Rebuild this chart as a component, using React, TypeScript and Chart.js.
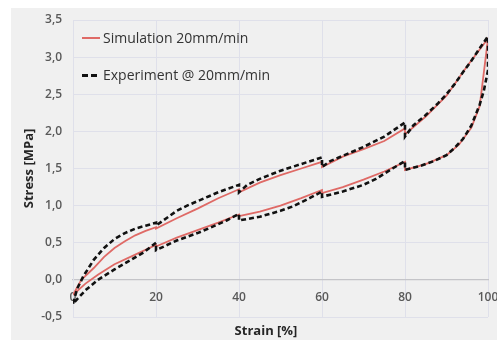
import React, { useEffect, useRef } from 'react';
import { Chart, registerables } from 'chart.js';

Chart.register(...registerables);

// ---- data ----
const seriesNames = ['Simulation 20mm/min', 'Experiment @ 20mm/min'];
const xTickValues = [0, 20, 40, 60, 80, 100];
const yTickValues = [-0.5, 0, 0.5, 1, 1.5, 2, 2.5, 3, 3.5];
const xTitle = 'Strain [%]';
const yTitle = 'Stress [MPa]';

// Simulation (loading 0 -> 100, then unloading 100 -> 0)
const simStrain = [
  0, 2, 5, 7.5, 10, 12.5, 15, 17.5, 20, 20, 25, 30, 35, 40, 40, 45, 50, 55, 60, 60, 65, 70, 75, 80, 80, 85, 90, 95, 100,
  100, 98, 96, 93, 90, 85, 80, 80, 75, 70, 65, 60, 60, 55, 50, 45, 40, 40, 35, 30, 25, 20, 20, 15, 10, 6, 3, 0,
];
const simStress = [
  -0.2, 0.0, 0.16, 0.31, 0.43, 0.52, 0.6, 0.66, 0.71, 0.69, 0.83, 0.96, 1.1, 1.22, 1.18, 1.31, 1.41, 1.5, 1.59, 1.52, 1.66, 1.76, 1.87, 2.04, 1.96, 2.2, 2.48, 2.88, 3.25,
  3.25, 2.34, 2.05, 1.82, 1.68, 1.56, 1.48, 1.59, 1.46, 1.35, 1.25, 1.17, 1.21, 1.1, 1.0, 0.92, 0.86, 0.88, 0.77, 0.67, 0.57, 0.45, 0.47, 0.34, 0.21, 0.07, -0.05, -0.2,
];

// Experiment (loading 0 -> 100, then unloading 100 -> 0)
const expStrain = [
  0, 1, 2.5, 5, 7.5, 10, 12.5, 15, 17.5, 20, 20, 22.5, 25, 27.5, 30, 32.5, 35, 37.5, 40, 40, 42, 45, 50, 55, 60, 60, 62, 65, 70, 75, 80, 80, 82, 85, 88, 90, 92, 94, 96, 98, 100,
  100, 99, 98, 96, 94, 92, 90, 87, 84, 80, 80, 77, 73, 70, 65, 60, 60, 57, 53, 50, 45, 40, 40, 37, 33, 30, 25, 20, 20, 17, 14, 10, 6, 3, 0,
];
const expStress = [
  -0.32, -0.12, 0.05, 0.27, 0.43, 0.55, 0.63, 0.69, 0.73, 0.77, 0.73, 0.83, 0.93, 1.0, 1.06, 1.12, 1.18, 1.23, 1.28, 1.18, 1.28, 1.36, 1.47, 1.56, 1.65, 1.52, 1.6, 1.67, 1.79, 1.93, 2.12, 1.93, 2.08, 2.22, 2.38, 2.5, 2.64, 2.8, 2.95, 3.12, 3.28,
  2.82, 2.55, 2.36, 2.08, 1.9, 1.78, 1.68, 1.6, 1.54, 1.48, 1.6, 1.5, 1.36, 1.28, 1.19, 1.12, 1.19, 1.1, 0.99, 0.93, 0.85, 0.8, 0.89, 0.8, 0.7, 0.63, 0.53, 0.4, 0.5, 0.37, 0.27, 0.14, 0.0, -0.14, -0.32,
];

// ---- styles ----
const FONT = "'Open Sans', sans-serif";
const RED = '#df6a66';
const BLACK = '#111111';
const GRID = '#dfe0ea';
const ZERO = '#c4c4c8';
const TICK = '#595959';
const TITLE = '#262626';
const BG = '#f0f0f0';

const toPoints = (xs: number[], ys: number[]) => xs.map((x, i) => ({ x, y: ys[i] }));

export default function App() {
  const ref = useRef<HTMLCanvasElement>(null);

  useEffect(() => {
    const chart = new Chart(ref.current as HTMLCanvasElement, {
      type: 'scatter',
      data: {
        datasets: [
          {
            label: seriesNames[0],
            data: toPoints(simStrain, simStress),
            showLine: true,
            borderColor: RED,
            backgroundColor: RED,
            borderWidth: 1.8,
            pointRadius: 0,
            tension: 0,
            order: 1,
          },
          {
            label: seriesNames[1],
            data: toPoints(expStrain, expStress),
            showLine: true,
            borderColor: BLACK,
            backgroundColor: BLACK,
            borderWidth: 2.6,
            borderDash: [5, 3],
            pointRadius: 0,
            tension: 0,
            order: 0,
          },
        ],
      },
      options: {
        responsive: false,
        animation: false,
        devicePixelRatio: 1,
        layout: { padding: { left: 0, top: 12, right: 9, bottom: 23 } },
        plugins: { legend: { display: false }, tooltip: { enabled: false } },
        scales: {
          x: {
            type: 'linear',
            position: { y: 0 } as any,
            min: 0,
            max: 100,
            afterBuildTicks: (s: any) => {
              s.ticks = xTickValues.map((v) => ({ value: v }));
            },
            grid: { color: GRID, drawTicks: false, lineWidth: 1 },
            border: { color: ZERO, width: 1.2 },
            ticks: {
              padding: 11,
              color: TICK,
              font: { family: FONT, size: 12, weight: '600' as any },
              maxRotation: 0,
              callback: (v: any) => String(v),
            },
            afterFit: (s: any) => {
              s.paddingLeft = 0;
              s.paddingRight = 0;
            },
          },
          y: {
            type: 'linear',
            position: 'left',
            min: -0.5,
            max: 3.5,
            afterBuildTicks: (s: any) => {
              s.ticks = yTickValues.map((v) => ({ value: v }));
            },
            grid: {
              color: (ctx: any) => (ctx.tick && ctx.tick.value === 0 ? ZERO : GRID),
              drawTicks: false,
              lineWidth: 1,
            },
            border: { color: GRID, width: 1 },
            ticks: {
              padding: 11,
              color: TICK,
              font: { family: FONT, size: 12, weight: '600' as any },
              callback: (v: any) => Number(v).toFixed(1).replace('.', ','),
            },
            title: {
              display: true,
              text: yTitle,
              color: TITLE,
              font: { family: FONT, size: 13, weight: 'bold' as any },
              padding: { top: 10, bottom: 0 },
            },
            afterFit: (s: any) => {
              s.width = 62;
              s.paddingTop = 0;
              s.paddingBottom = 0;
            },
          },
        },
      },
    } as any);
    return () => chart.destroy();
  }, []);

  const legendText: React.CSSProperties = {
    fontFamily: FONT,
    fontSize: 14,
    color: '#333333',
    whiteSpace: 'nowrap',
    lineHeight: '20px',
  };

  return (
    <div style={{ position: 'fixed', left: 0, top: 0, width: 497, height: 340, background: '#ffffff', overflow: 'hidden' }}>
      <div style={{ position: 'absolute', left: 11, top: 8, width: 486, height: 332, background: BG }}>
        <canvas ref={ref} width={486} height={332} style={{ display: 'block', width: 486, height: 332 }} />
      </div>
      {/* legend */}
      <div style={{ position: 'absolute', left: 82, top: 28, height: 20, display: 'flex', alignItems: 'center' }}>
        <div style={{ width: 18, height: 2, background: RED, marginRight: 3 }} />
        <span style={legendText}>{seriesNames[0]}</span>
      </div>
      <div style={{ position: 'absolute', left: 82, top: 65, height: 20, display: 'flex', alignItems: 'center' }}>
        <div style={{ width: 6, height: 3, background: BLACK, marginRight: 3 }} />
        <div style={{ width: 6, height: 3, background: BLACK, marginRight: 6 }} />
        <span style={legendText}>{seriesNames[1]}</span>
      </div>
      {/* x axis title */}
      <div
        style={{
          position: 'absolute',
          left: 266,
          top: 330,
          transform: 'translate(-50%, -50%)',
          fontFamily: FONT,
          fontSize: 13,
          fontWeight: 'bold',
          color: TITLE,
          whiteSpace: 'nowrap',
        }}
      >
        {xTitle}
      </div>
    </div>
  );
}
